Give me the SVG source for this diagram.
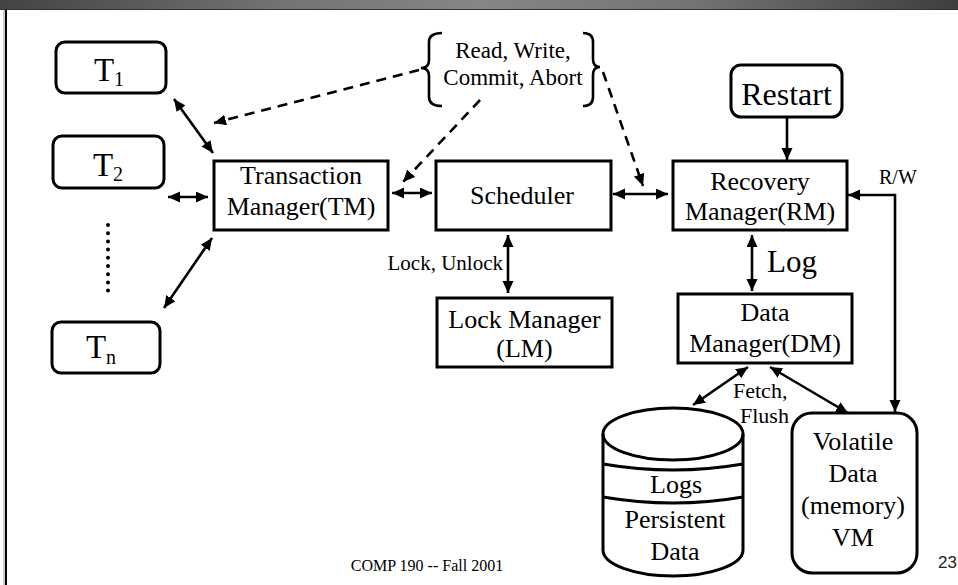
<svg xmlns="http://www.w3.org/2000/svg" width="958" height="585" viewBox="0 0 958 585">
<defs>
<linearGradient id="bar" x1="0" y1="0" x2="1" y2="0">
<stop offset="0" stop-color="#434343"/>
<stop offset="0.3" stop-color="#747474"/>
<stop offset="0.5" stop-color="#868686"/>
<stop offset="0.72" stop-color="#747474"/>
<stop offset="1" stop-color="#3e3e3e"/>
</linearGradient>
<marker id="ah" markerUnits="userSpaceOnUse" markerWidth="14" markerHeight="12" refX="12" refY="5.5" orient="auto-start-reverse">
<path d="M0,0 L12,5.5 L0,11 z" fill="#000"/>
</marker>
</defs>
<style>
.box{fill:#fff;stroke:#000;stroke-width:3}
.t{font-family:"Liberation Serif","Times New Roman",serif;fill:#000}
.lbl{font-size:26px;text-anchor:middle}
.c{fill:none;stroke:#000;stroke-width:2.6}
.d{fill:none;stroke:#000;stroke-width:2.6;stroke-dasharray:10 7}
.a{marker-end:url(#ah)}
.aa{marker-start:url(#ah);marker-end:url(#ah)}
</style>
<rect width="958" height="585" fill="#fff"/>
<rect x="0" y="0" width="958" height="9" fill="url(#bar)"/>
<line x1="0" y1="9.5" x2="958" y2="9.5" stroke="#333" stroke-width="1"/>
<line x1="4" y1="10" x2="4" y2="585" stroke="#9a9a9a" stroke-width="1"/>
<line x1="6" y1="10" x2="6" y2="585" stroke="#000" stroke-width="2"/>

<g id="connectors">
<line class="c aa" x1="174" y1="99" x2="213" y2="153"/>
<line class="c aa" x1="168" y1="197" x2="208" y2="197"/>
<line class="c aa" x1="164" y1="308" x2="212" y2="238"/>
<line class="c aa" x1="392" y1="193" x2="432" y2="193"/>
<line class="c aa" x1="613" y1="194" x2="668" y2="194"/>
<line class="c aa" x1="508" y1="235" x2="508" y2="293"/>
<line class="c aa" x1="752" y1="235" x2="752" y2="291"/>
<line class="c aa" x1="748" y1="367" x2="693" y2="405"/>
<line class="c aa" x1="770" y1="367" x2="848" y2="413"/>
<line class="c a" x1="787" y1="117" x2="787" y2="160"/>
<path class="c aa" d="M848 195 L895 195 L895 412"/>
<line class="d a" x1="419" y1="70" x2="214" y2="123"/>
<line class="d a" x1="480" y1="100" x2="403" y2="182"/>
<line class="d a" x1="603" y1="72" x2="643" y2="186"/>
<line x1="108" y1="225" x2="108" y2="292" stroke="#000" stroke-width="4" stroke-linecap="round" stroke-dasharray="0 8.2"/>
</g>

<g id="brace-ops">
<path class="c" d="M442 33 Q429 33 429 42 L429 60 Q429 68 421 68 Q429 68 429 76 L429 97 Q429 106 442 106"/>
<path class="c" d="M583 33 Q593 33 593 42 L593 59 Q593 67 600 67 Q593 67 593 75 L593 97 Q593 106 583 106"/>
<text class="t" x="513" y="58" font-size="23" text-anchor="middle">Read, Write,</text>
<text class="t" x="513" y="85" font-size="23" text-anchor="middle">Commit, Abort</text>
</g>

<g id="T1">
<rect class="box" x="56" y="42" width="110" height="51" rx="9"/>
<text class="t" x="109" y="81" font-size="33" text-anchor="middle">T<tspan font-size="20" dy="5">1</tspan></text>
</g>
<g id="T2">
<rect class="box" x="53" y="136" width="111" height="52" rx="9"/>
<text class="t" x="108" y="176" font-size="33" text-anchor="middle">T<tspan font-size="20" dy="5">2</tspan></text>
</g>
<g id="Tn">
<rect class="box" x="52" y="322" width="108" height="51" rx="9"/>
<text class="t" x="101" y="358" font-size="33" text-anchor="middle">T<tspan font-size="20" dy="6">n</tspan></text>
</g>

<g id="TM">
<rect class="box" x="214" y="161" width="174" height="69"/>
<text class="t lbl" x="301" y="184">Transaction</text>
<text class="t lbl" x="301" y="215">Manager(TM)</text>
</g>
<g id="Scheduler">
<rect class="box" x="436" y="161" width="175" height="69"/>
<text class="t lbl" x="522" y="204">Scheduler</text>
</g>
<g id="RM">
<rect class="box" x="673" y="161" width="174" height="69"/>
<text class="t lbl" x="760" y="190">Recovery</text>
<text class="t lbl" x="760" y="220">Manager(RM)</text>
</g>
<g id="Restart">
<rect class="box" x="731" y="65" width="111" height="52" rx="10"/>
<text class="t" x="786.5" y="105" font-size="32" text-anchor="middle">Restart</text>
</g>
<g id="LM">
<rect class="box" x="437" y="298" width="175" height="69"/>
<text class="t lbl" x="524.5" y="328">Lock Manager</text>
<text class="t lbl" x="524.5" y="357">(LM)</text>
</g>
<g id="DM">
<rect class="box" x="678" y="294" width="174" height="69"/>
<text class="t lbl" x="765" y="321">Data</text>
<text class="t lbl" x="765" y="352">Manager(DM)</text>
</g>
<g id="PersistentData">
<path class="box" d="M603 434 L603 550 A70 26 0 0 0 743 550 L743 434 A70 26 0 0 0 603 434 Z"/>
<path class="c" style="stroke-width:3" d="M603 434 A70 26 0 0 0 743 434"/>
<path class="c" style="stroke-width:3" d="M603 464 Q673 476 743 464"/>
<path class="c" style="stroke-width:3" d="M603 497 Q673 509 743 497"/>
<text class="t lbl" x="676" y="493">Logs</text>
<text class="t lbl" x="675" y="528">Persistent</text>
<text class="t lbl" x="675" y="560">Data</text>
</g>
<g id="VM">
<rect class="box" x="792" y="413" width="125" height="160" rx="20"/>
<text class="t lbl" x="853" y="450">Volatile</text>
<text class="t lbl" x="853" y="482">Data</text>
<text class="t lbl" x="853" y="514">(memory)</text>
<text class="t lbl" x="853" y="546">VM</text>
</g>

<g id="labels">
<text class="t" x="503" y="270" font-size="21" text-anchor="end">Lock, Unlock</text>
<text class="t" x="767" y="272" font-size="31">Log</text>
<text class="t" x="733" y="398" font-size="22">Fetch,</text>
<text class="t" x="740" y="423" font-size="22">Flush</text>
<text class="t" x="879" y="184" font-size="20">R/W</text>
<text class="t" x="427" y="571" font-size="16" text-anchor="middle">COMP 190 -- Fall 2001</text>
<text x="938" y="568" font-size="17" font-family="'Liberation Sans',Arial,sans-serif" fill="#222">23</text>
</g>
</svg>
